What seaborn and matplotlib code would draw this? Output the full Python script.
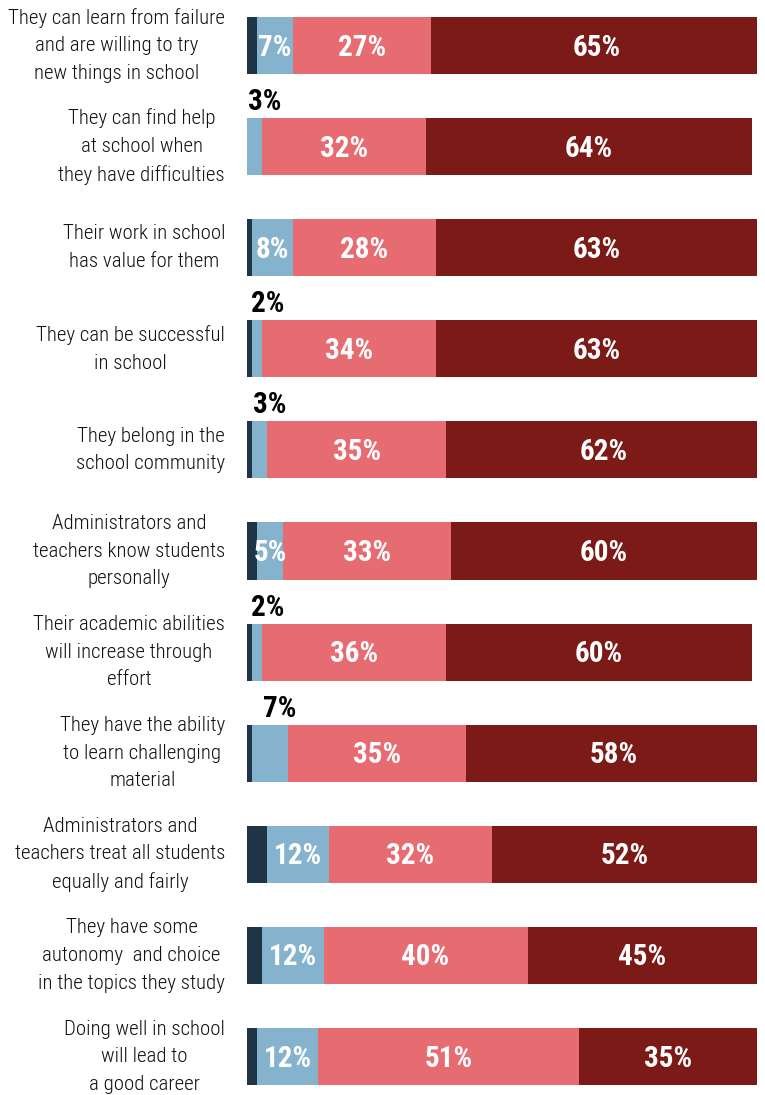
import matplotlib
matplotlib.use("Agg")
import matplotlib.pyplot as plt
from matplotlib import font_manager
import numpy as np
import pandas as pd
import seaborn as sns

statements = [
    "They can learn from failure\nand are willing to try\nnew things in school",
    "They can find help\nat school when\nthey have difficulties",
    "Their work in school\nhas value for them",
    "They can be successful\nin school",
    "They belong in the\nschool community",
    "Administrators and\nteachers know students\npersonally",
    "Their academic abilities\nwill increase through\neffort",
    "They have the ability\nto learn challenging\nmaterial",
    "Administrators and\nteachers treat all students\nequally and fairly",
    "They have some\nautonomy  and choice\nin the topics they study",
    "Doing well in school\nwill lead to\na good career",
]
strongly_disagree = [2, 0, 1, 1, 1, 2, 1, 1, 4, 3, 2]
disagree = [7, 3, 8, 2, 3, 5, 2, 7, 12, 12, 12]
agree = [27, 32, 28, 34, 35, 33, 36, 35, 32, 40, 51]
strongly_agree = [65, 64, 63, 63, 62, 60, 60, 58, 52, 45, 35]
disagree_label_above = [False, True, False, True, True, False, True, True, False, False, False]

levels = ["Strongly disagree", "Disagree", "Agree", "Strongly agree"]
colors = ["#1f3545", "#85b3cd", "#e76c72", "#7c1a17"]

available = {f.name for f in font_manager.fontManager.ttflist}
family = next((f for f in ["Roboto Condensed", "Liberation Sans Narrow", "Roboto"] if f in available), "DejaVu Sans")

sns.set_theme(style="white")
plt.rcParams["font.family"] = [family, "DejaVu Sans"]

df = pd.DataFrame({
    "statement": statements,
    levels[0]: strongly_disagree,
    levels[1]: disagree,
    levels[2]: agree,
    levels[3]: strongly_agree,
})
cum = df[levels].cumsum(axis=1)

fig = plt.figure(figsize=(7.65, 10.95), dpi=100)
ax = fig.add_axes([247 / 765, 0.0, 510 / 765, 1.0])

# stacked bars: draw cumulative totals from the widest layer down
for level, color in reversed(list(zip(levels, colors))):
    sns.barplot(x=cum[level], y=df["statement"], color=color, width=0.565,
                orient="h", ax=ax, saturation=1, linewidth=0)

ax.set_xlim(0, 100)
ax.set_ylim(10.38, -0.45)
ax.set_xlabel("")
ax.set_ylabel("")
ax.set_xticks([])
ax.set_yticks(range(len(df)))
ax.set_yticklabels([])
ax.tick_params(axis="y", length=0)
sns.despine(ax=ax, left=True, bottom=True)

# statement labels, centred lines, right edge just left of the bars
for i, text in enumerate(df["statement"]):
    ax.annotate(text, xy=(0, i), xycoords=("axes fraction", "data"),
                xytext=(-22, 0), textcoords="offset pixels",
                ha="right", va="center", multialignment="center",
                fontsize=15, fontweight="light", color="#111111",
                linespacing=1.57, annotation_clip=False)

val_kw = dict(fontsize=21, fontweight="bold", va="center", ha="center")
for i in range(len(df)):
    left = 0
    for j, level in enumerate(levels):
        v = df.loc[i, level]
        center = left + v / 2
        if j == 1:
            if disagree_label_above[i]:
                ax.text(center + 2, i - 0.44, f"{v}%", color="black", **val_kw)
            else:
                ax.text(center, i + 0.02, f"{v}%", color="white", **val_kw)
        elif j >= 2:
            ax.text(center, i + 0.02, f"{v}%", color="white", **val_kw)
        left += v

fig.savefig("out.png", dpi=100)
